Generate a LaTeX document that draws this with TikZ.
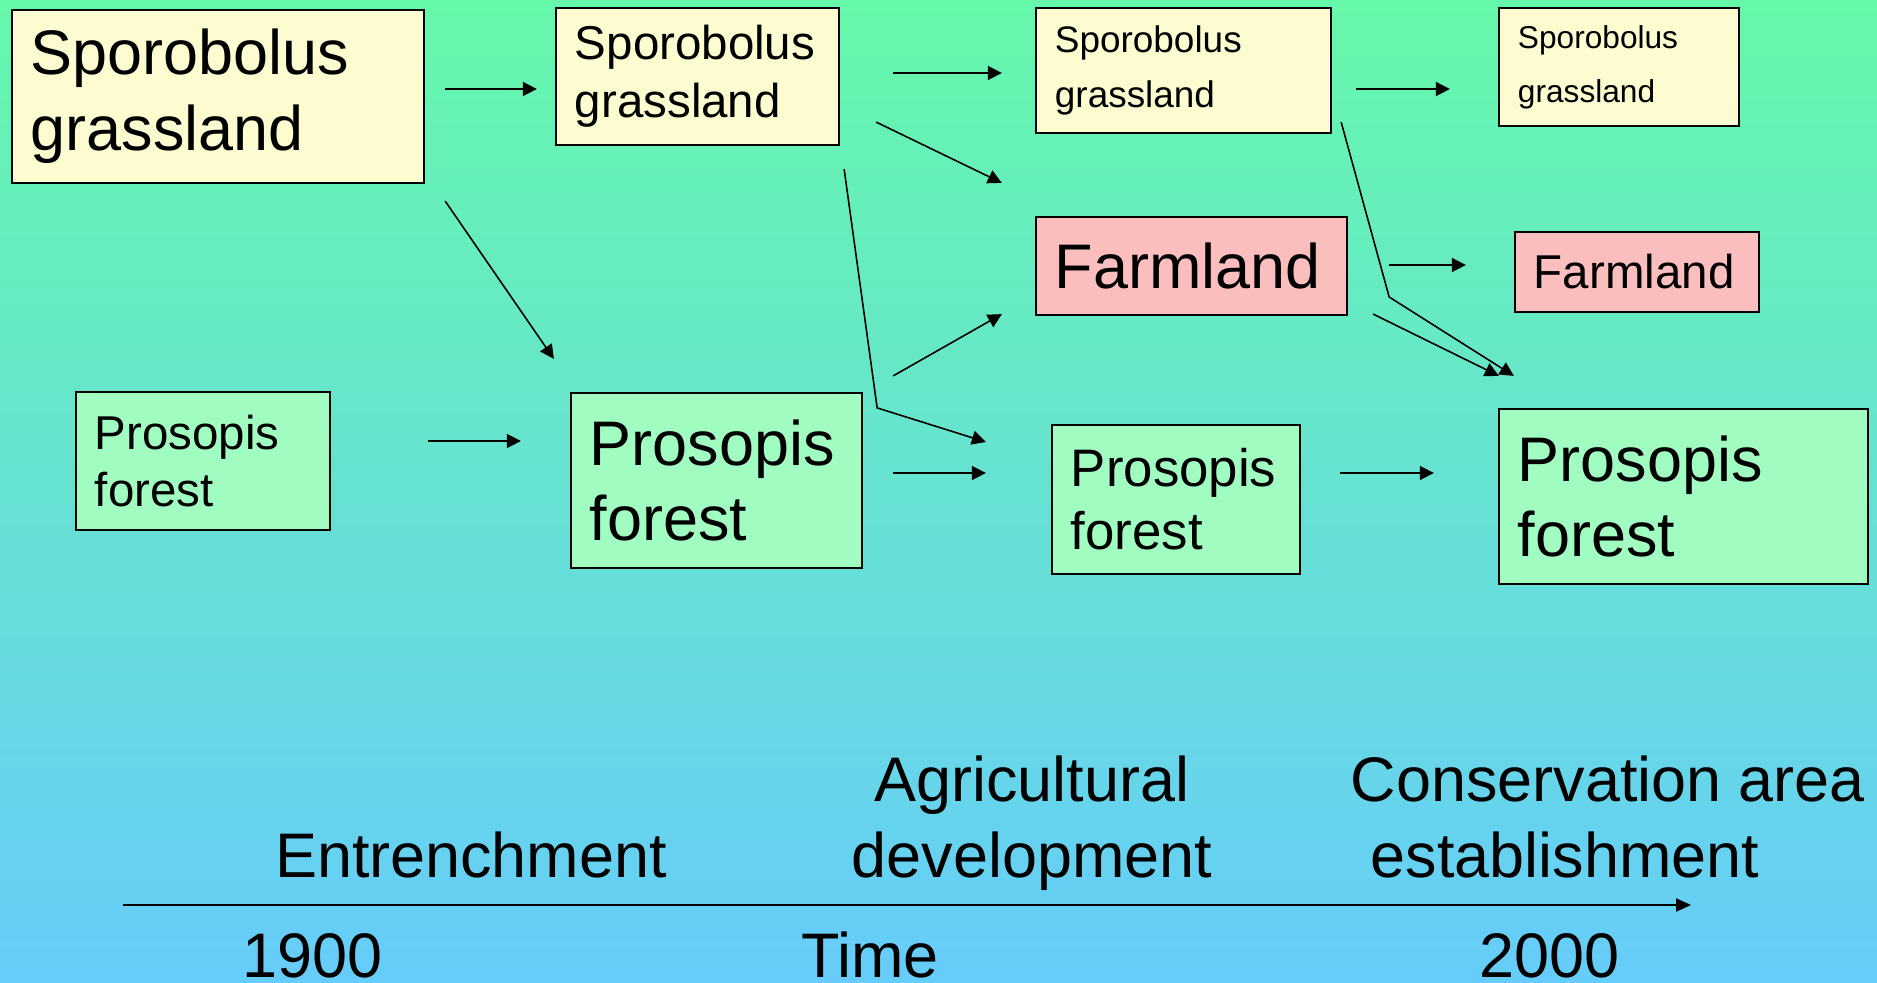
\documentclass[tikz,border=0pt]{standalone}
\usepackage{fontspec}
\setmainfont{Liberation Sans}
\usetikzlibrary{arrows.meta}

\definecolor{bgtop}{RGB}{102,248,170}
\definecolor{bgbottom}{RGB}{102,204,250}
\definecolor{grassfill}{RGB}{252,252,208}
\definecolor{farmfill}{RGB}{250,190,190}
\definecolor{forestfill}{RGB}{160,252,192}

\newcommand{\fxl}{\fontsize{17.9}{21.5}\selectfont}
\newcommand{\fl}{\fontsize{13.5}{16.4}\selectfont}
\newcommand{\fm}{\fontsize{15}{17.9}\selectfont}
\newcommand{\fs}{\fontsize{10.5}{15.4}\selectfont}
\newcommand{\fxs}{\fontsize{9}{15.4}\selectfont}
\hyphenpenalty=10000

\begin{document}
\begin{tikzpicture}[x=0.01cm, y=-0.01cm,
    box/.style={draw, line width=0.6pt, align=left, inner xsep=0.19cm, inner ysep=1pt},
    grass/.style={box, fill=grassfill},
    farm/.style={box, fill=farmfill},
    forest/.style={box, fill=forestfill},
    arr/.style={-{Triangle[length=0.14cm, width=0.14cm]}, line width=0.45pt}]
	% Background
	\clip (0,0) rectangle (1877,982);
	\shade[top color=bgtop, bottom color=bgbottom] (0,0) rectangle (1877,982);

	% 1900
	\node[grass, font=\fxl, text width=3.74cm, minimum height=1.73cm] (grassA) at (218,96.5) {Sporobolus\\grassland};
	\node[forest, font=\fl, text width=2.16cm, minimum height=1.38cm] (forestA) at (203,461) {Prosopis\\forest};

	% Entrenchment
	\node[grass, font=\fl, text width=2.45cm, minimum height=1.37cm] (grassB) at (697.5,76.5) {Sporobolus\\grassland};
	\node[forest, font=\fxl, text width=2.53cm, minimum height=1.75cm] (forestB) at (716.5,480.5) {Prosopis\\forest};

	% Agricultural development
	\node[grass, font=\fs, text width=2.57cm, minimum height=1.25cm] (grassC) at (1183.5,70.5) {Sporobolus\\grassland};
	\node[farm, font=\fxl, text width=2.73cm, minimum height=0.98cm] (farmC) at (1191.5,266) {Farmland};
	\node[forest, font=\fm, text width=2.10cm, minimum height=1.49cm] (forestC) at (1176,499.5) {Prosopis\\forest};

	% Conservation area
	\node[grass, font=\fxs, text width=2.02cm, minimum height=1.18cm] (grassD) at (1619,67) {Sporobolus\\grassland};
	\node[farm, font=\fl, text width=2.06cm, minimum height=0.80cm] (farmD) at (1637,272) {Farmland};
	\node[forest, font=\fxl, text width=3.31cm, minimum height=1.75cm] (forestD) at (1683.5,496.5) {Prosopis\\forest};

	% Transitions
	\draw[arr] ([shift={(20,-7.5)}]grassA.east) -- ([shift={(-18,12.5)}]grassB.west);
	\draw[arr] ([shift={(20,17)}]grassA.south east) -- ([shift={(-16,-33)}]forestB.north west);
	\draw[arr] ([shift={(97,-20)}]forestA.east) -- ([shift={(-49,-39.5)}]forestB.west);
	\draw[arr] ([shift={(53,-3.5)}]grassB.east) -- ([shift={(-33,2.5)}]grassC.west);
	\draw[arr] ([shift={(36,-24)}]grassB.south east) -- ([shift={(-33,-33)}]farmC.north west);
	\draw[arr] ([shift={(4,23)}]grassB.south east) -- ([shift={(14,16)}]forestB.north east) -- ([shift={(-65,-57.5)}]forestC.west);
	\draw[arr] ([shift={(30,-16)}]forestB.north east) -- ([shift={(-33,-2)}]farmC.south west);
	\draw[arr] ([shift={(30,-7.5)}]forestB.east) -- ([shift={(-65,-26.5)}]forestC.west);
	\draw[arr] ([shift={(24,18.5)}]grassC.east) -- ([shift={(-48,22)}]grassD.west);
	\draw[arr] ([shift={(9,-12)}]grassC.south east) -- ([shift={(41,31)}]farmC.east) -- ([shift={(16,-32)}]forestD.north west);
	\draw[arr] ([shift={(41,-1)}]farmC.east) -- ([shift={(-48,-7)}]farmD.west);
	\draw[arr] ([shift={(25,-2)}]farmC.south east) -- ([shift={(1,-32)}]forestD.north west);
	\draw[arr] ([shift={(39,-26.5)}]forestC.east) -- ([shift={(-64,-23.5)}]forestD.west);

	% Time axis
	\coordinate (tstart) at (123,905);
	\coordinate (tend) at (1691,905);
	\draw[line width=0.6pt, -{Triangle[length=0.15cm, width=0.13cm]}] (tstart) -- (tend);
	\node[font=\fxl, anchor=base] (entrench) at (471,877) {Entrenchment};
	\node[font=\fxl, anchor=base, align=center] (agri) at (1032,877) {Agricultural\\development};
	\node[font=\fxl, anchor=base west, align=left, inner xsep=0pt] (conserv) at (1350,877) {Conservation area\\\hspace*{0.2cm}establishment};
	\node[font=\fxl, anchor=base] (y1900) at (313,977) {1900};
	\node[font=\fxl, anchor=base] (time) at (870,977) {Time};
	\node[font=\fxl, anchor=base] (y2000) at (1549,977) {2000};
\end{tikzpicture}
\end{document}
